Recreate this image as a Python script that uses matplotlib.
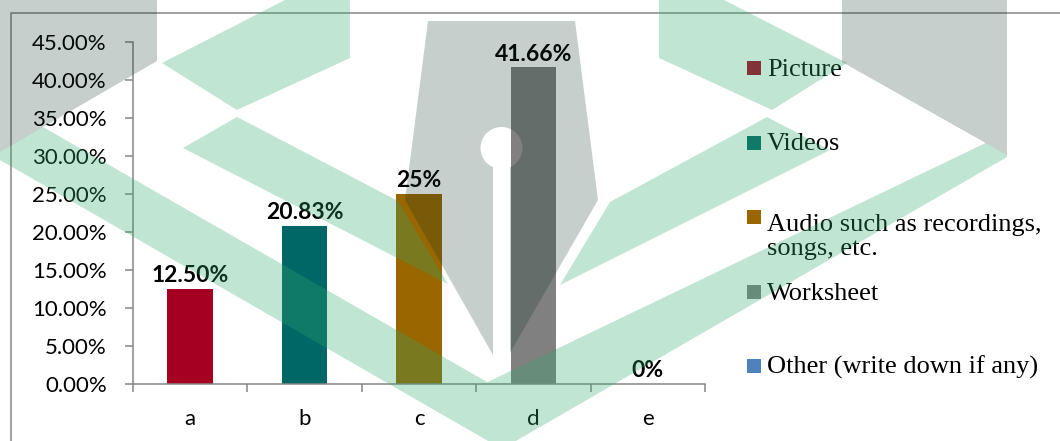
import matplotlib
matplotlib.use("Agg")
import matplotlib.pyplot as plt
import numpy as np
from matplotlib import transforms
from matplotlib.lines import Line2D
from matplotlib.patches import Polygon, Rectangle
from matplotlib.ticker import MultipleLocator, PercentFormatter

W, H = 1060, 441

categories = ["a", "b", "c", "d", "e"]
shares = [0.125, 0.2083, 0.25, 0.4166, 0.0]
share_labels = ["12.50%", "20.83%", "25%", "41.66%", "0%"]
legend_names = ["Picture", "Videos", "Audio such as recordings,\nsongs, etc.",
                "Worksheet", "Other (write down if any)"]
bar_colors = ["#A50021", "#006666", "#996600", "#808080", "#4F81BD"]

GRID = "#868686"
SANS = ["Lato", "DejaVu Sans"]
SERIF = ["Liberation Serif", "DejaVu Serif"]

fig = plt.figure(figsize=(W / 100, H / 100), dpi=100)
fig.patch.set_facecolor("white")
# pixel coordinates, origin top-left
px = transforms.Affine2D().scale(1 / W, -1 / H).translate(0, 1) + fig.transFigure

ax = fig.add_axes([133 / W, 1 - 384 / H, 572 / W, 342 / H])
x = np.arange(len(categories))
ax.bar(x, shares, width=0.4, color=bar_colors, zorder=2)
ax.set_xlim(-0.5, len(categories) - 0.5)
ax.set_ylim(0, 0.45)
ax.yaxis.set_major_locator(MultipleLocator(0.05))
ax.yaxis.set_major_formatter(PercentFormatter(1.0, decimals=2))
ax.set_xticks(x, categories)
ax.set_xticks(np.arange(-0.5, len(categories), 1), minor=True)
for s in ("top", "right"):
    ax.spines[s].set_visible(False)
for s in ("left", "bottom"):
    ax.spines[s].set_color(GRID)
    ax.spines[s].set_linewidth(1.1)
ax.tick_params(axis="x", which="major", length=0, pad=18)
ax.tick_params(axis="x", which="minor", length=5.8, width=1.1, color=GRID)
ax.tick_params(axis="y", length=5.8, width=1.1, color=GRID, pad=13)
for lab in ax.get_xticklabels() + ax.get_yticklabels():
    lab.set_family(SANS)
    lab.set_fontsize(16)

for xi, v, t in zip(x, shares, share_labels):
    ax.annotate(t, (xi, v), xytext=(0, 2), textcoords="offset points",
                ha="center", va="bottom", fontsize=16.5, fontweight="bold",
                family=SANS)

# legend drawn by hand: square swatch + serif label
LINE_PX = 30
for i, (name, c) in enumerate(zip(legend_names, bar_colors)):
    yc = 68 + i * 74.5
    fig.add_artist(Rectangle((747, yc - 7), 14, 14, transform=px,
                             facecolor=c, edgecolor="none"))
    extra = name.count("\n") * LINE_PX
    fig.text(767, yc + 8 + extra, name, transform=px, fontsize=19,
             family=SERIF, va="baseline", ha="left", linespacing=1.12)

# chart frame
fig.add_artist(Line2D([11, 11, W], [H, 12.5, 12.5], transform=px,
                      color=GRID, lw=1.1))

# background logo watermark (translucent, over everything)
GREEN = dict(facecolor=(0.19, 0.67, 0.42, 0.30), edgecolor="none")
GREY = dict(facecolor=(0.055, 0.20, 0.14, 0.236), edgecolor="none")

logo_green = [
    [(162, 63), (285, 0), (350, 0), (350, 58), (237, 110)],
    [(847, 63), (724, 0), (659, 0), (659, 58), (772, 110)],
    [(183, 148), (237, 117), (398, 201), (448, 284)],
    [(560, 285), (610, 202), (767, 117), (830, 150)],
    [(0, 152), (43, 127), (487.4, 382.2), (985.8, 142.9), (1007, 155),
     (1007, 157), (502, 449), (0, 160)],
]
logo_grey = [
    [(0, 0), (157, 0), (157, 61), (0, 152)],
    [(842, 0), (1007, 0), (1007, 155), (842, 62)],
]

# pen nib with keyhole slit
cx, cy, r, half = 501.5, 148, 21, 8.5
a0 = np.arctan2(np.sqrt(r**2 - half**2), half)
ang = np.linspace(a0, np.pi - a0 - 2 * np.pi, 60)
arc = np.column_stack([cx + r * np.cos(ang), cy + r * np.sin(ang)])
nib = np.vstack([[(428, 21), (575, 21), (598, 200), (510, 353)], arc,
                 [(493, 355), (405, 200)]])
logo_grey.append(nib)

for pts in logo_green:
    fig.add_artist(Polygon(pts, closed=True, transform=px, zorder=10, **GREEN))
for pts in logo_grey:
    fig.add_artist(Polygon(pts, closed=True, transform=px, zorder=10, **GREY))

fig.savefig("out.png", dpi=100)
